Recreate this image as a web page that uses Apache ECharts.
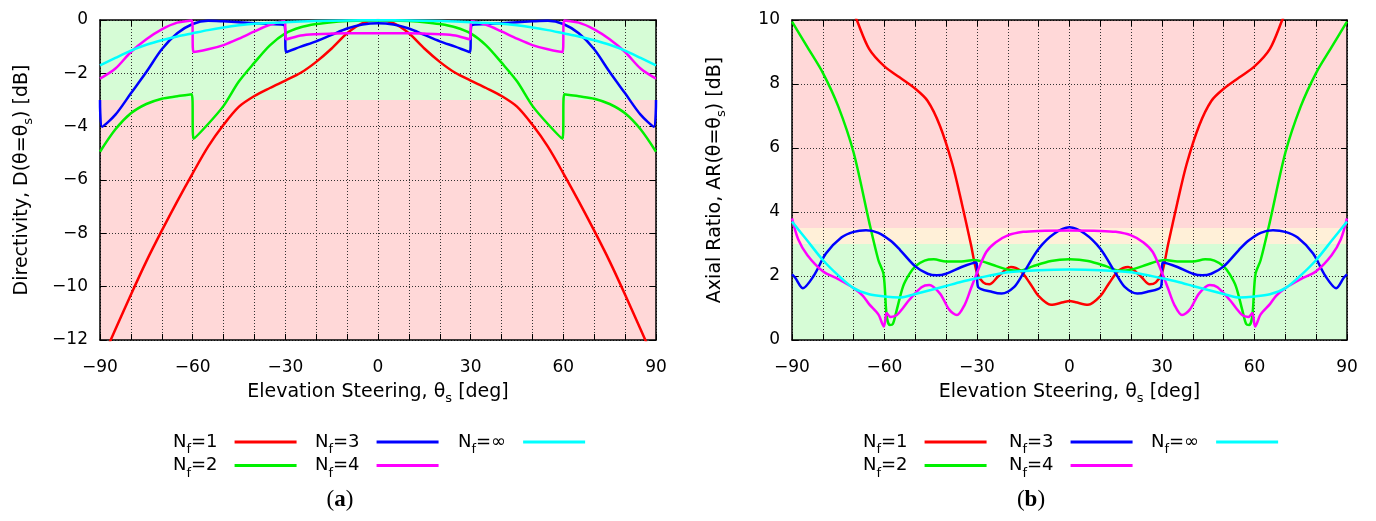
<!DOCTYPE html>
<html>
<head>
<meta charset="utf-8">
<script src="https://cdn.jsdelivr.net/npm/echarts@6/dist/echarts.min.js"></script>
<style>
  html, body { margin: 0; padding: 0; background: #fff; }
  #chart { width: 1376px; height: 521px; }
</style>
</head>
<body>
<div id="chart"></div>
<script>
// ---- data ----
const seriesNames = ['Nf=1', 'Nf=2', 'Nf=3', 'Nf=4', 'Nf=∞'];

// (a) directivity D(theta = theta_s) [dB] vs elevation steering [deg]
const dirNf1 = [[-90,-12.9],[-85,-11.6],[-80,-10.3],[-75,-9.05],[-70,-7.9],[-65,-6.8],[-60,-5.75],[-55,-4.75],[-50,-3.93],[-45,-3.25],[-40,-2.85],[-35,-2.55],[-30,-2.27],[-25,-1.98],[-20,-1.57],[-15,-1.07],[-10,-0.5],[-5,-0.12],[0,0],
  [5,-0.12],[10,-0.5],[15,-1.07],[20,-1.57],[25,-1.98],[30,-2.27],[35,-2.55],[40,-2.85],[45,-3.25],[50,-3.93],[55,-4.75],[60,-5.75],[65,-6.8],[70,-7.9],[75,-9.05],[80,-10.3],[85,-11.6],[90,-12.9]];
const dirNf2 = [[-90,-4.94],[-85,-4.1],[-80,-3.5],[-75,-3.15],[-70,-2.95],[-65,-2.86],[-60.3,-2.78],[-59.7,-4.45],[-55,-3.9],[-50,-3.22],[-45,-2.3],[-40,-1.6],[-35,-0.95],[-30,-0.5],[-25,-0.27],[-20,-0.15],[-15,-0.08],[-10,-0.04],[-5,-0.02],[0,-0.02],
  [5,-0.02],[10,-0.04],[15,-0.08],[20,-0.15],[25,-0.27],[30,-0.5],[35,-0.95],[40,-1.6],[45,-2.3],[50,-3.22],[55,-3.9],[59.7,-4.45],[60.3,-2.78],[65,-2.86],[70,-2.95],[75,-3.15],[80,-3.5],[85,-4.1],[90,-4.94]];
const dirNf3 = [[-90,-3.0],[-89.3,-4.0],[-85,-3.55],[-80,-2.75],[-75,-1.95],[-70,-1.1],[-65,-0.5],[-60,-0.15],[-55,-0.03],[-50,-0.05],[-45,-0.08],[-40,-0.12],[-35,-0.15],[-30.3,-0.2],[-29.7,-1.2],[-25,-1.0],[-20,-0.8],[-15,-0.56],[-10,-0.32],[-5,-0.17],[0,-0.12],
  [5,-0.17],[10,-0.32],[15,-0.56],[20,-0.8],[25,-1.0],[29.7,-1.2],[30.3,-0.2],[35,-0.15],[40,-0.12],[45,-0.08],[50,-0.05],[55,-0.03],[60,-0.15],[65,-0.5],[70,-1.1],[75,-1.95],[80,-2.75],[85,-3.55],[89.3,-4.0],[90,-3.0]];
const dirNf4 = [[-90,-2.2],[-85,-1.82],[-80,-1.2],[-75,-0.72],[-70,-0.35],[-65,-0.1],[-60.3,-0.02],[-59.7,-1.2],[-55,-1.1],[-50,-0.94],[-45,-0.7],[-40,-0.43],[-35,-0.18],[-30.3,-0.05],[-29.7,-0.72],[-25,-0.58],[-20,-0.53],[-15,-0.51],[-10,-0.5],[-5,-0.5],[0,-0.5],
  [5,-0.5],[10,-0.5],[15,-0.51],[20,-0.53],[25,-0.58],[29.7,-0.72],[30.3,-0.05],[35,-0.18],[40,-0.43],[45,-0.7],[50,-0.94],[55,-1.1],[59.7,-1.2],[60.3,-0.02],[65,-0.1],[70,-0.35],[75,-0.72],[80,-1.2],[85,-1.82],[90,-2.2]];
const dirNfInf = [[-90,-1.7],[-85,-1.42],[-80,-1.15],[-75,-0.93],[-70,-0.76],[-65,-0.62],[-60,-0.5],[-55,-0.38],[-50,-0.28],[-45,-0.2],[-40,-0.14],[-30,-0.08],[-20,-0.04],[-10,-0.02],[0,-0.01],
  [10,-0.02],[20,-0.04],[30,-0.08],[40,-0.14],[45,-0.2],[50,-0.28],[55,-0.38],[60,-0.5],[65,-0.62],[70,-0.76],[75,-0.93],[80,-1.15],[85,-1.42],[90,-1.7]];

// (b) axial ratio AR(theta = theta_s) [dB] vs elevation steering [deg]
const arNf1 = [[-75,12],[-72,10.7],[-69,10.0],[-65,9.1],[-60,8.55],[-55,8.2],[-50,7.85],[-46,7.47],[-42,6.69],[-38,5.5],[-35,4.3],[-32,3.0],[-30,2.1],[-28,1.8],[-26,1.74],[-23,2.0],[-19,2.28],[-16,2.17],[-13,1.8],[-10,1.37],[-6,1.1],[-2,1.18],[0,1.22],
  [2,1.18],[6,1.1],[10,1.37],[13,1.8],[16,2.17],[19,2.28],[23,2.0],[26,1.74],[28,1.8],[30,2.1],[32,3.0],[35,4.3],[38,5.5],[42,6.69],[46,7.47],[50,7.85],[55,8.2],[60,8.55],[65,9.1],[69,10.0],[72,10.7],[75,12]];
const arNf2 = [[-90,9.95],[-85,9.15],[-80,8.35],[-75,7.3],[-70,5.85],[-65,3.7],[-62,2.5],[-60.3,2.05],[-59.3,0.75],[-58.3,0.47],[-57.3,0.5],[-56,0.95],[-54,1.67],[-52,2.05],[-50,2.3],[-47,2.48],[-44,2.52],[-40,2.45],[-35,2.45],[-31,2.5],[-28,2.45],[-25,2.35],[-20,2.2],[-16,2.17],[-12,2.3],[-6,2.47],[0,2.52],
  [6,2.47],[12,2.3],[16,2.17],[20,2.2],[25,2.35],[28,2.45],[31,2.5],[35,2.45],[40,2.45],[44,2.52],[47,2.48],[50,2.3],[52,2.05],[54,1.67],[56,0.95],[57.3,0.5],[58.3,0.47],[59.3,0.75],[60.3,2.05],[62,2.5],[65,3.7],[70,5.85],[75,7.3],[80,8.35],[85,9.15],[90,9.95]];
const arNf3 = [[-90,2.05],[-89,1.95],[-86.5,1.62],[-83,2.0],[-79,2.7],[-74,3.2],[-70,3.38],[-66,3.43],[-62,3.35],[-58,3.1],[-55,2.82],[-50,2.3],[-46,2.07],[-43,2.02],[-40,2.07],[-35,2.28],[-30.3,2.42],[-29.7,1.67],[-25,1.5],[-22,1.45],[-18,1.65],[-15,2.08],[-10,2.85],[-5,3.32],[0,3.52],
  [5,3.32],[10,2.85],[15,2.08],[18,1.65],[22,1.45],[25,1.5],[29.7,1.67],[30.3,2.42],[35,2.28],[40,2.07],[43,2.02],[46,2.07],[50,2.3],[55,2.82],[58,3.1],[62,3.35],[66,3.43],[70,3.38],[74,3.2],[79,2.7],[83,2.0],[86.5,1.62],[89,1.95],[90,2.05]];
const arNf4 = [[-90,3.8],[-88,3.15],[-85,2.65],[-80,2.15],[-75,1.9],[-70,1.62],[-67,1.38],[-65,1.12],[-62,0.8],[-60.2,0.42],[-59.3,0.84],[-58,0.72],[-56,0.78],[-54,1.0],[-52,1.25],[-48,1.65],[-45.5,1.72],[-42,1.45],[-39,0.95],[-36.5,0.78],[-34,1.1],[-32,1.6],[-30,2.1],[-27,2.75],[-24,3.05],[-20,3.27],[-15,3.38],[-10,3.41],[0,3.42],
  [10,3.41],[15,3.38],[20,3.27],[24,3.05],[27,2.75],[30,2.1],[32,1.6],[34,1.1],[36.5,0.78],[39,0.95],[42,1.45],[45.5,1.72],[48,1.65],[52,1.25],[54,1.0],[56,0.78],[58,0.72],[59.3,0.84],[60.2,0.42],[62,0.8],[65,1.12],[67,1.38],[70,1.62],[75,1.9],[80,2.15],[85,2.65],[88,3.15],[90,3.8]];
const arNfInf = [[-90,3.7],[-85,3.1],[-80,2.5],[-75,2.02],[-70,1.62],[-65,1.43],[-60,1.36],[-55,1.33],[-50,1.44],[-45,1.56],[-40,1.69],[-35,1.82],[-30,1.93],[-25,2.03],[-20,2.12],[-10,2.18],[0,2.2],
  [10,2.18],[20,2.12],[25,2.03],[30,1.93],[35,1.82],[40,1.69],[45,1.56],[50,1.44],[55,1.33],[60,1.36],[65,1.43],[70,1.62],[75,2.02],[80,2.5],[85,3.1],[90,3.7]];

// shaded thresholds
const dirLimit = -3;        // green above, red below
const arGood = 3, arFair = 3.5;

// ---- chart ----
const FONT = 'DejaVu Sans';
const colors = ['#ff0000', '#00f000', '#0000ff', '#ff00ff', '#00ffff'];

const nameRich = {
  n: { fontFamily: FONT, fontSize: 19, color: '#000' },
  s: { fontFamily: FONT, fontSize: 13, color: '#000', padding: [12, 0, 0, 0] }
};
const legendRich = {
  n: { fontFamily: FONT, fontSize: 18, color: '#000' },
  s: { fontFamily: FONT, fontSize: 13, color: '#000', padding: [16, 0, 0, 0] }
};

function minus(v) { return v < 0 ? '\u2212' + Math.abs(v) : String(v); }

const gridLine = { show: true, lineStyle: { type: [1, 2], color: '#333', width: 1 } };
const frame = { show: true, onZero: false, lineStyle: { color: '#000', width: 1.5 } };
const ticks = { show: true, inside: true, length: 6, lineStyle: { color: '#000', width: 1 } };
const tickFont = { fontFamily: FONT, fontSize: 17, color: '#000' };

function xAxes(gi) {
  return [
    {
      type: 'value', gridIndex: gi, min: -90, max: 90, interval: 10, z: 2,
      axisLine: frame, axisTick: ticks, splitLine: gridLine,
      axisLabel: Object.assign({ margin: 19, formatter: v => (v % 30 === 0 ? minus(v) : '') }, tickFont),
      name: '{n|Elevation Steering, θ}{s|s}{n| [deg]}',
      nameLocation: 'middle', nameGap: 40,
      nameTextStyle: { rich: nameRich }
    },
    {
      type: 'value', gridIndex: gi, position: 'top', min: -90, max: 90, interval: 10, z: 2,
      axisLine: frame, axisTick: ticks, splitLine: { show: false }, axisLabel: { show: false }
    }
  ];
}

function yAxes(gi, min, max, title, gap) {
  return [
    {
      type: 'value', gridIndex: gi, min: min, max: max, interval: 2, z: 2,
      axisLine: frame, axisTick: ticks, splitLine: gridLine,
      axisLabel: Object.assign({ margin: 12, formatter: minus }, tickFont),
      name: title, nameLocation: 'middle', nameGap: gap,
      nameTextStyle: { rich: nameRich }
    },
    {
      type: 'value', gridIndex: gi, position: 'right', min: min, max: max, interval: 2, z: 2,
      axisLine: frame, axisTick: ticks, splitLine: { show: false }, axisLabel: { show: false }
    }
  ];
}

function band(lo, hi, color) {
  return [{ yAxis: lo, itemStyle: { color: color } }, { yAxis: hi }];
}

function lineSeries(i, data, gi, area) {
  const s = {
    name: seriesNames[i], type: 'line', data: data,
    xAxisIndex: gi * 2, yAxisIndex: gi * 2,
    showSymbol: false, symbol: 'none', smooth: 0.3,
    clip: true, z: 4, animation: false,
    lineStyle: { width: 2.5, color: colors[i] }, itemStyle: { color: colors[i] }
  };
  if (area) s.markArea = { silent: true, z: 1, data: area };
  return s;
}

const dirSets = [dirNf1, dirNf2, dirNf3, dirNf4, dirNfInf];
const arSets = [arNf1, arNf2, arNf3, arNf4, arNfInf];

const series = [];
dirSets.forEach((d, i) => series.push(lineSeries(i, d, 0, i === 0 ? [
  band(dirLimit, 0, '#d6fcd6'),
  band(-12, dirLimit, '#ffd8d8')
] : null)));
arSets.forEach((d, i) => series.push(lineSeries(i, d, 1, i === 0 ? [
  band(0, arGood, '#d6fcd6'),
  band(arGood, arFair, '#fff0d8'),
  band(arFair, 10, '#ffd8d8')
] : null)));

// legend columns: [left, names]
const legendCols = [
  [168, ['Nf=1', 'Nf=2']], [310, ['Nf=3', 'Nf=4']], [453, ['Nf=∞']],
  [858, ['Nf=1', 'Nf=2']], [1004, ['Nf=3', 'Nf=4']], [1146, ['Nf=∞']]
];
const legends = legendCols.map(c => ({
  left: c[0], top: 428, orient: 'vertical', align: 'right',
  data: c[1], icon: 'rect', itemWidth: 62, itemHeight: 3, itemGap: 0,
  selectedMode: false,
  formatter: name => '{n|N}{s|f}{n|' + name.slice(2) + '}',
  textStyle: { rich: legendRich, padding: [0, 12, 0, 0] }
}));

const captionRich = { b: { fontFamily: 'Liberation Serif', fontSize: 23, fontWeight: 'bold' } };

const option = {
  backgroundColor: '#fff',
  animation: false,
  grid: [
    { left: 100, top: 20, width: 556, height: 320 },
    { left: 792, top: 20, width: 555, height: 320 }
  ],
  xAxis: [...xAxes(0), ...xAxes(1)],
  yAxis: [
    ...yAxes(0, -12, 0, '{n|Directivity, D(θ=θ}{s|s}{n|) [dB]}', 65),
    ...yAxes(1, 0, 10, '{n|Axial Ratio, AR(θ=θ}{s|s}{n|) [dB]}', 64)
  ],
  legend: legends,
  series: series,
  graphic: [
    { type: 'text', x: 340, y: 500, style: { text: '({b|a})', align: 'center', verticalAlign: 'middle',
      font: '23px "Liberation Serif"', fill: '#000', rich: captionRich } },
    { type: 'text', x: 1031, y: 500, style: { text: '({b|b})', align: 'center', verticalAlign: 'middle',
      font: '23px "Liberation Serif"', fill: '#000', rich: captionRich } }
  ]
};

const myChart = echarts.init(document.getElementById('chart'));
myChart.setOption(option);
</script>
</body>
</html>
